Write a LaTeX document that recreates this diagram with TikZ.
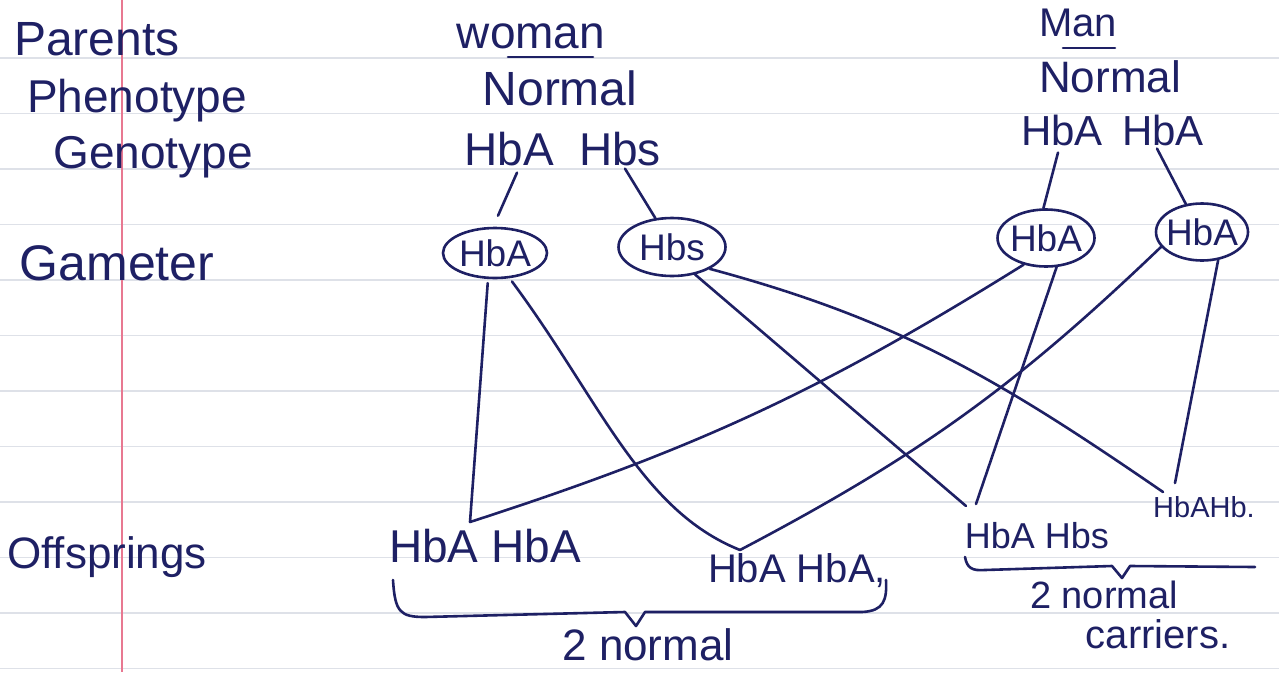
\documentclass[tikz,border=0pt]{standalone}
\usepackage{fontspec}
\setmainfont{Liberation Sans}
\usetikzlibrary{shapes.geometric}
\definecolor{ink}{RGB}{30,32,100}
\definecolor{ruleline}{RGB}{222,225,232}
\definecolor{marginred}{RGB}{232,120,145}
\begin{document}
\begin{tikzpicture}[x=1pt,y=-1pt,
  lbl/.style={anchor=base, inner sep=0pt, text=ink, font=\fontsize{#1}{#1}\selectfont},
  gam/.style={ellipse, draw=ink, line width=2.6pt, inner sep=-5pt, text=ink,
              font=\fontsize{37}{37}\selectfont},
  link/.style={draw=ink, line width=2.6pt, line cap=round, line join=round},
  paperrule/.style={draw=ruleline, line width=1.2pt},
  marginrule/.style={draw=marginred, line width=1.5pt}]
\useasboundingbox[fill=white] (0,0) rectangle (1279,672);
% notebook paper
\foreach \k in {0,...,11}
  \draw[paperrule] (0,{58+55.5*\k}) -- (1279,{58+55.5*\k});
\draw[marginrule] (122,0) -- (122,672);

% row labels
\node[lbl=48] (parents) at (97,55) {Parents};
\node[lbl=46] (pheno) at (137,112) {Phenotype};
\node[lbl=46] (geno) at (153,168) {Genotype};
\node[lbl=50] (gamlbl) at (117,280) {Gameter};
\node[lbl=44] (offlbl) at (107,568) {Offsprings};

% parents
\node[lbl=46] (woman) at (531,48) {woman};
\draw[link] ([xshift=-23pt,yshift=-9pt]woman.base) -- ([xshift=62pt,yshift=-9pt]woman.base);
\node[lbl=48] (wnorm) at (560,105) {Normal};
\node[lbl=46] (wgA) at (509,165) {HbA};
\node[lbl=46] (wgS) at (620,165) {Hbs};

\node[lbl=40] (man) at (1078,36) {Man};
\draw[link] ([xshift=-15pt,yshift=-12pt]man.base) -- ([xshift=37pt,yshift=-12pt]man.base);
\node[lbl=44] (mnorm) at (1110,92) {Normal};
\node[lbl=42] (mgA1) at (1062,145) {HbA};
\node[lbl=42] (mgA2) at (1163,145) {HbA};

% gametes
\node[gam, minimum width=104pt, minimum height=50pt] (wG1) at (495,253) {HbA};
\node[gam, minimum width=107pt, minimum height=58pt] (wG2) at (672,247) {Hbs};
\node[gam, minimum width=97pt, minimum height=57pt] (mG1) at (1046,238) {HbA};
\node[gam, minimum width=92pt, minimum height=57pt] (mG2) at (1202,232) {HbA};

\draw[link] ([xshift=8pt,yshift=-7pt]wgA.south) -- ([xshift=3pt,yshift=11pt]wG1.north);
\draw[link] ([xshift=5pt,yshift=-3pt]wgS.south) -- (wG2.120);
\draw[link] ([xshift=-4pt,yshift=-7pt]mgA1.south) -- (mG1.95);
\draw[link] ([xshift=-6pt,yshift=-3pt]mgA2.south) -- (mG2.120);

% offspring
\node[lbl=46] (offL) at (485,562) {HbA HbA};
\node[lbl=40] (offM) at (797,582) {HbA HbA,};
\node[lbl=36] (offC) at (1037,548) {HbA Hbs};
\node[lbl=29] (offR) at (1204,517) {HbAHb.};

\coordinate (apL) at (470,522);
\coordinate (apM) at (740,550);
\coordinate (apC1) at (966,506);
\coordinate (apC2) at (976,504);
\coordinate (apR1) at (1163,492);
\coordinate (apR2) at (1175,483);

\draw[link, shorten <=4pt] (wG1.255) -- (apL);
\draw[link] (mG1.230) to[bend left=7] (apL);
\draw[link, shorten <=4pt] (wG1.300) .. controls (600,400) and (640,510) .. (apM);
\draw[link] (mG2.200) to[bend left=8] (apM);
\draw[link] (wG2.310) -- (apC1);
\draw[link] (mG1.290) -- (apC2);
\draw[link] (wG2.330) .. controls (900,320) and (1000,380) .. (apR1);
\draw[link] (mG2.300) -- (apR2);

% braces and summaries
\draw[link] (393,580) .. controls (395,612) and (400,617) .. (425,617) -- (625,612)
  -- (636,626) -- (645,612) -- (862,612) .. controls (884,611) and (887,600) .. (886,580);
\node[lbl=44] (sum1) at (648,660) {2 normal};

\draw[link] (965,557) .. controls (967,568) and (972,571) .. (985,570) -- (1112,566)
  -- (1122,578) -- (1130,566) -- (1255,567);
\node[lbl=38] (sum2) at (1104,608) {2 normal};
\node[lbl=40] (carr) at (1158,648) {carriers.};
\end{tikzpicture}
\end{document}
